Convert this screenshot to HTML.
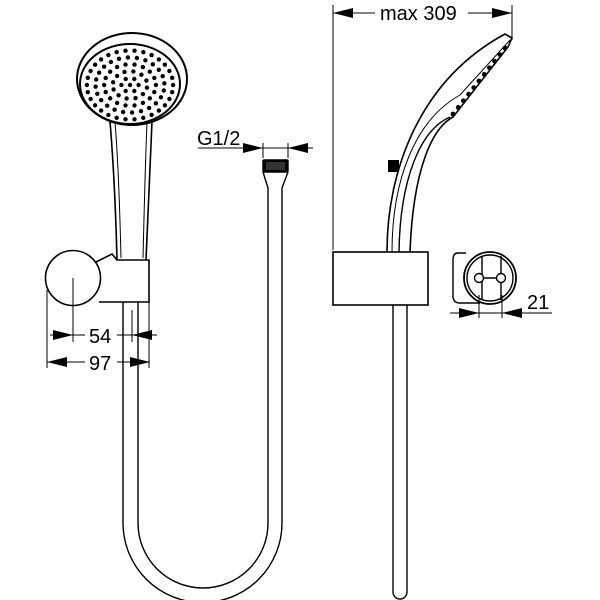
<!DOCTYPE html>
<html><head><meta charset="utf-8"><style>
html,body{margin:0;padding:0;background:#fff;width:600px;height:600px;overflow:hidden}
text{font-family:"Liberation Sans",sans-serif;font-size:20px;fill:#000}
</style></head><body>
<svg id="s" width="600" height="600" viewBox="0 0 600 600" xmlns="http://www.w3.org/2000/svg">
<g fill="none" stroke="#000" stroke-width="1.4">
<ellipse cx="132" cy="79" rx="55" ry="46" stroke-width="2"/>
<ellipse cx="130" cy="84" rx="50" ry="40" stroke-width="2"/>
<path d="M110 121 C114 170,116 220,117 260 M152 121 C150 170,148 220,146 260" stroke-width="1.6"/>
<path d="M115 122 C119 170,120 220,121 258 M147 122 C145 170,144 220,143 258" stroke-width="1"/>
<path d="M96 262 L112 254 L117 260 L149 260 L149 302 L99 302" stroke-width="1.6"/>
<circle cx="73" cy="278" r="27.5" fill="#fff" stroke-width="1.6"/>
<path d="M123 302 V523 A79 79 0 0 0 282 523 V188 L288 172" />
<path d="M138 302 V523 A65 65 0 0 0 268 523 V188 L263 172" />
<rect x="263" y="160" width="25" height="12" fill="#000" rx="1"/>
<rect x="266" y="162" width="19" height="8" fill="#333" stroke="none"/>
<g stroke-width="1">
<path d="M73 278 V342 M47 290 V368 M132 310 V342 M149 302 V368"/>
<path d="M50 335 H85 M117 335 H157 M47 362 H85 M117 362 H150"/>
<path d="M198 148 H313 M263 143 V158 M288 143 V158"/>
</g>
</g>
<g fill="#000">
<polygon points="73,335 53,330 53,340"/>
<polygon points="132,335 152,330 152,340"/>
<polygon points="47,362 67,357 67,367"/>
<polygon points="150,362 130,357 130,367"/>
<polygon points="263,148 243,143 243,153"/>
<polygon points="288,148 308,143 308,153"/>
</g>
<text x="89" y="343">54</text>
<text x="89" y="370">97</text>
<text x="197" y="145">G1/2</text>
<g id="dots" fill="#000"></g>
<g fill="none" stroke="#000" stroke-width="1.4">
<path d="M333 5 V250 M512 5 V40" stroke-width="1"/>
<path d="M333 13 H375 M468 13 H512" stroke-width="1"/>
<path d="M387 252 C387 170,420 80,505 34 L512 38 L508 47 L453 117 C432 128,413 170,410 252" stroke-width="1.6"/>
<path d="M399 252 C400 180,420 130,450 117" />
<path d="M392 252 C392 180,415 120,460 95 L510 40" stroke-width="1"/>
<rect x="333" y="252" width="95" height="53" stroke-width="1.6"/>
<path d="M393 305 V592 A7 7 0 0 0 407 592 V305"/>
<path d="M466 253 H458 Q453 253 453 260 V296 Q453 303 460 303 H480"/>
<circle cx="490" cy="278" r="26" stroke-width="1.8"/>
<circle cx="490" cy="278" r="23"/>
<path d="M482 256 V300 M501 256 V300 M479 278 H501"/>
<circle cx="479" cy="278" r="4.5" fill="#fff"/>
<circle cx="501" cy="278" r="4.5" fill="#fff"/>
<path d="M479 295 V318 M502 295 V318 M450 313 H552" stroke-width="1"/>
</g>
<rect x="388" y="160" width="11" height="12" fill="#000"/>
<g fill="#000">
<polygon points="333,13 353,8 353,18"/>
<polygon points="512,13 492,8 492,18"/>
<polygon points="479,313 459,308 459,318"/>
<polygon points="502,313 522,308 522,318"/>
</g>
<g fill="#000" id="rdots"></g>
<text x="380" y="20">max 309</text>
<text x="527" y="309">21</text>
</svg>
<script>
var g=document.getElementById('dots'),h='';
h+='<circle cx="130" cy="85" r="2.2"/>';
var rings=[[7.5,6],[15,12],[22.5,18],[30,24],[37.5,30]];
rings.forEach(function(r,i){for(var k=0;k<r[1];k++){var a=2*Math.PI*k/r[1]+(i%2?0.2:0);var x=130+r[0]*Math.cos(a)*1.15,y=85+r[0]*Math.sin(a)*0.92;h+='<circle cx="'+x.toFixed(1)+'" cy="'+y.toFixed(1)+'" r="2.2"/>';}});
g.innerHTML=h;
var r2='';for(var k=0;k<11;k++){var t=k/10;var x=508-t*52,y=49+t*66;r2+='<circle cx="'+(x-3).toFixed(1)+'" cy="'+(y-1).toFixed(1)+'" r="2.4"/>';}
document.getElementById('rdots').innerHTML=r2;
</script>
</body></html>
